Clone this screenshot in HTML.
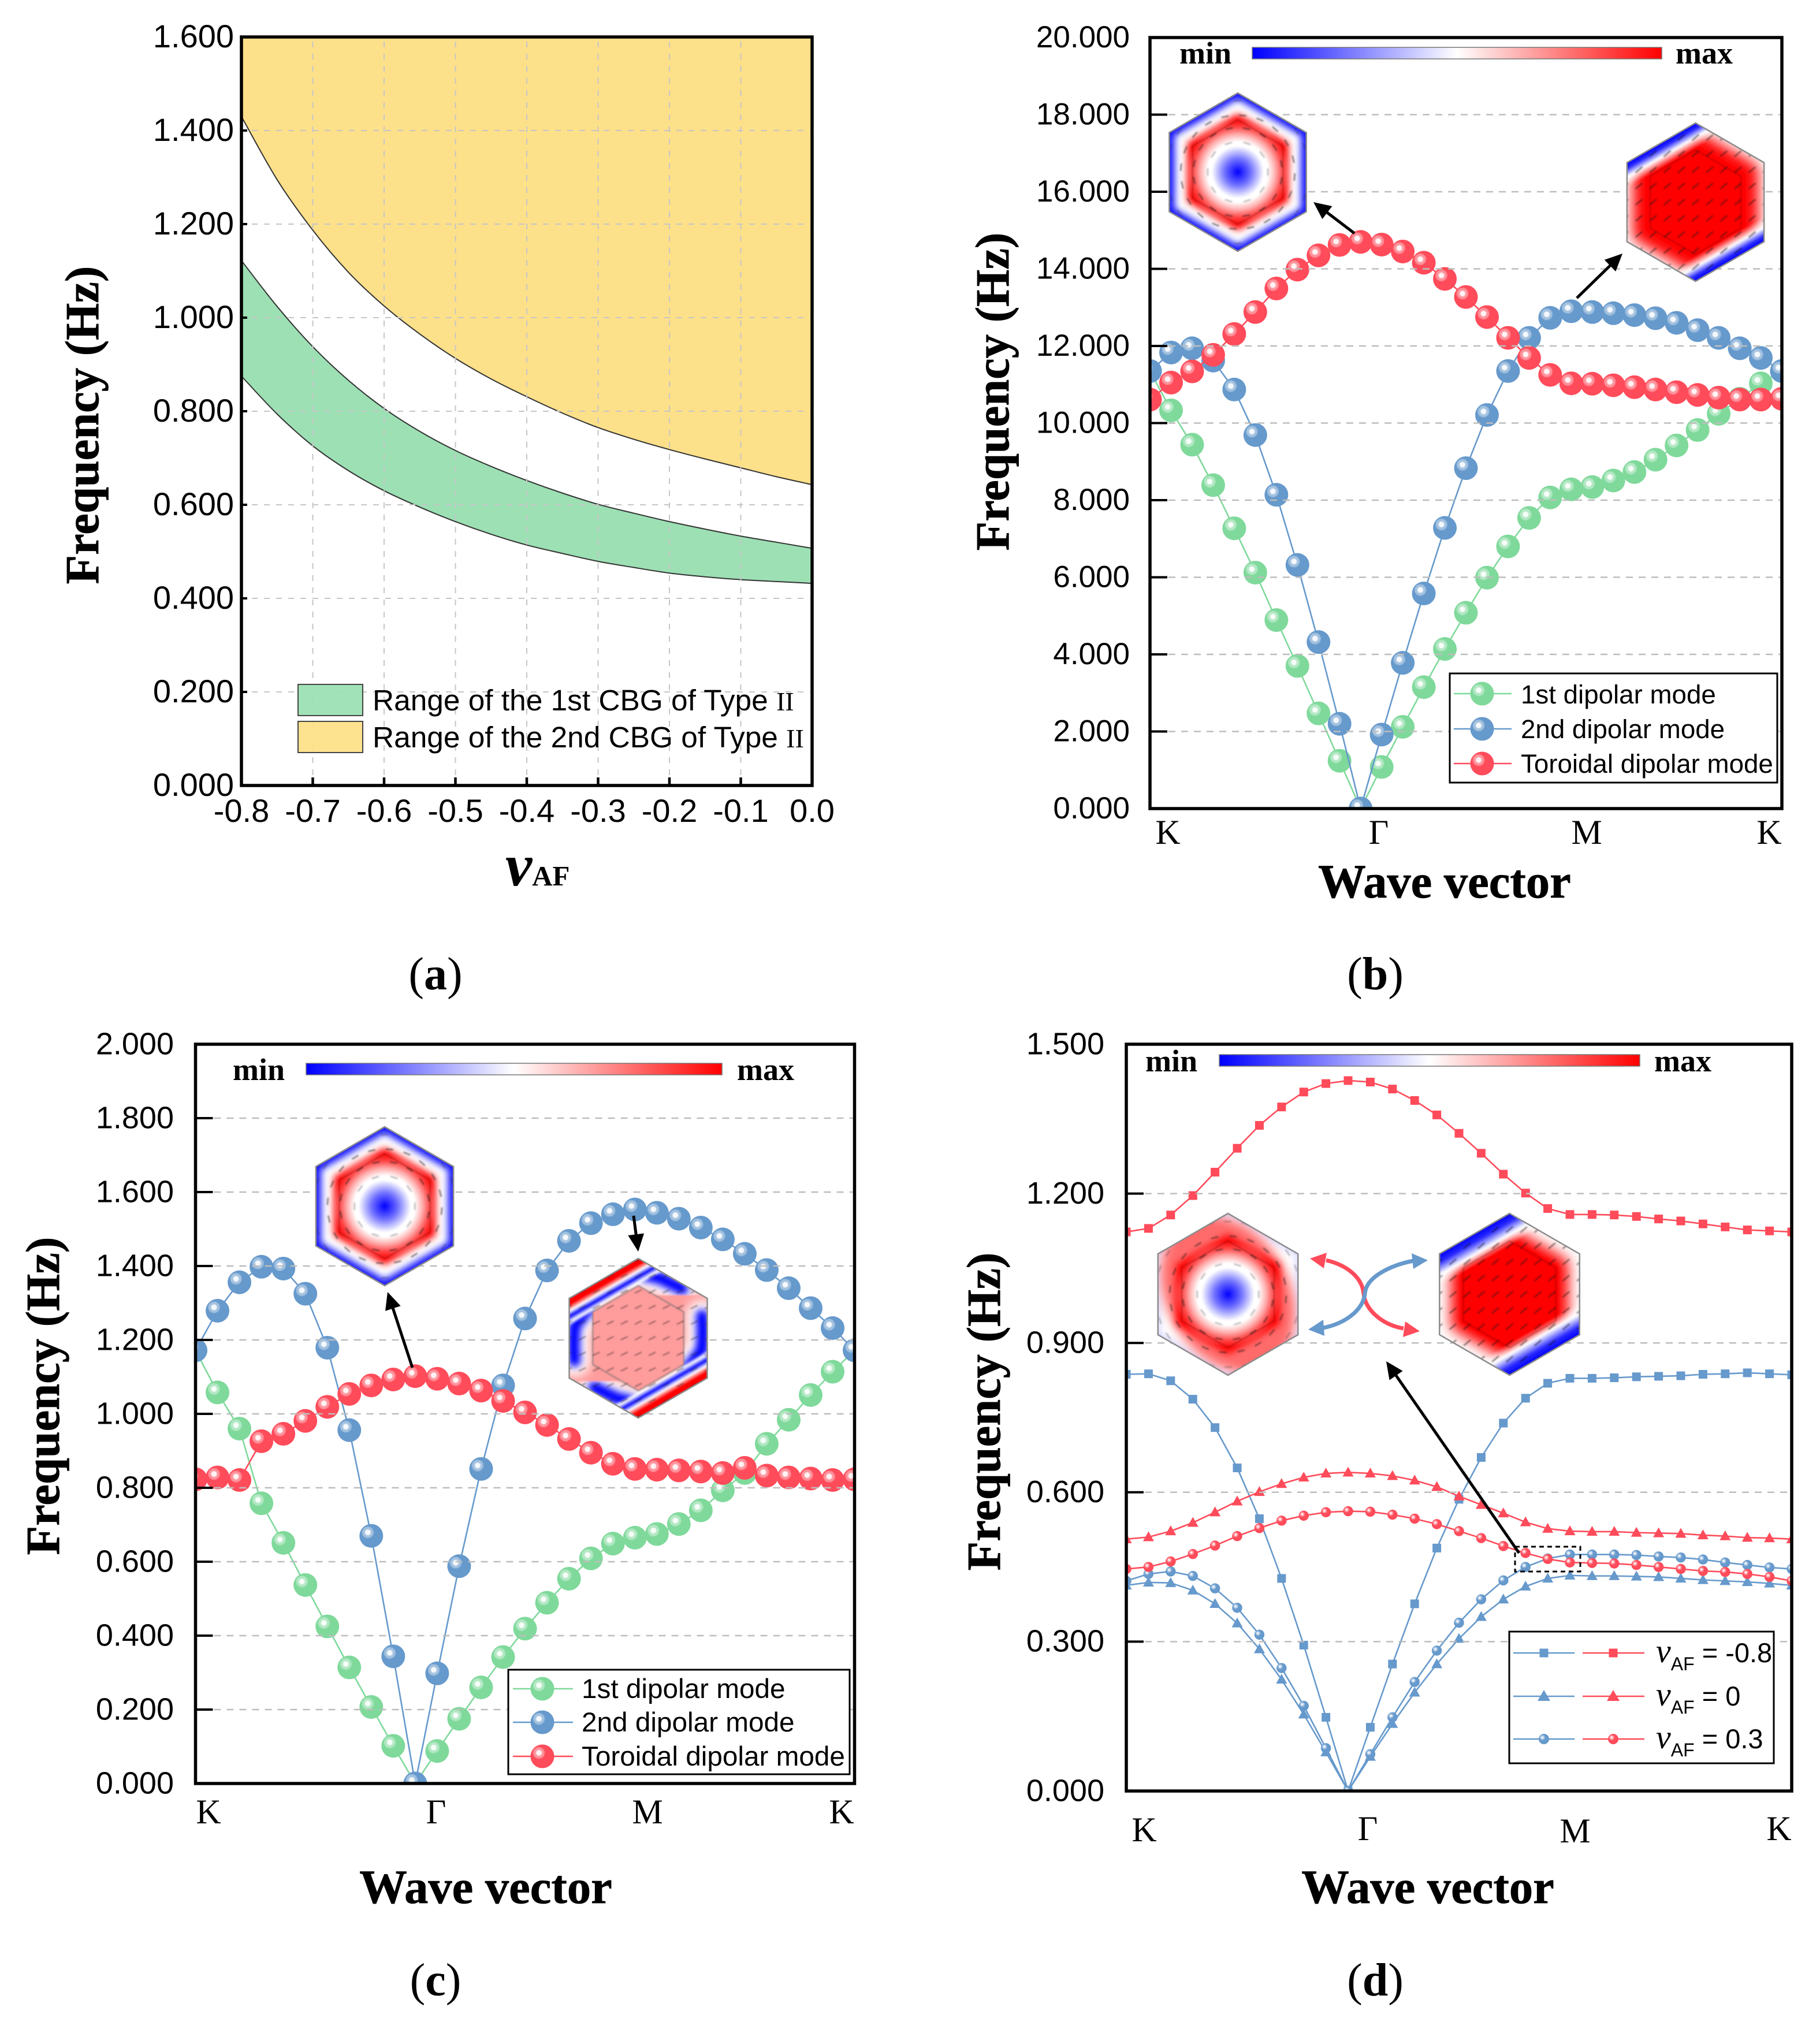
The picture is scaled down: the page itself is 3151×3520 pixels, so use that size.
<!DOCTYPE html>
<html lang="en">
<head>
<meta charset="utf-8">
<title>Frequency band charts</title>
<style>
html,body{margin:0;padding:0;background:#fff;}
svg{display:block;}
text{fill:#000;}
.sans{font-family:"Liberation Sans",sans-serif;}
.serif{font-family:"Liberation Serif",serif;}
.title{font-family:"Liberation Serif",serif;font-weight:bold;font-size:82.5px;stroke:#000;stroke-width:0.8px;}
.mm{font-family:"Liberation Serif",serif;font-weight:bold;font-size:54px;}
.sym{font-family:"Liberation Serif",serif;font-size:60px;text-anchor:middle;}
.plabel{font-family:"Liberation Serif",serif;font-size:80px;text-anchor:middle;}
</style>
</head>
<body>
<svg id="figure" xmlns="http://www.w3.org/2000/svg" width="3151" height="3520" viewBox="0 0 3151 3520">
<defs>
  <linearGradient id="cbar-gradient" x1="0" x2="1" y1="0" y2="0">
    <stop offset="0" stop-color="#0000ff"/><stop offset="0.5" stop-color="#ffffff"/><stop offset="1" stop-color="#ff0000"/>
  </linearGradient>
  <filter id="blur3" x="-40%" y="-40%" width="180%" height="180%"><feGaussianBlur stdDeviation="3"/></filter>
  <filter id="blur6" x="-40%" y="-40%" width="180%" height="180%"><feGaussianBlur stdDeviation="6"/></filter>
  <filter id="blur9" x="-40%" y="-40%" width="180%" height="180%"><feGaussianBlur stdDeviation="9"/></filter>
  <filter id="blur12" x="-40%" y="-40%" width="180%" height="180%"><feGaussianBlur stdDeviation="12"/></filter>
  <filter id="blur1" x="-40%" y="-40%" width="180%" height="180%"><feGaussianBlur stdDeviation="0.9"/></filter>
  <filter id="blur-field" x="-5%" y="-5%" width="110%" height="110%"><feGaussianBlur stdDeviation="1.3"/></filter>
  <clipPath id="clip-b"><rect x="1991" y="65" width="1094" height="1335"/></clipPath>
  <clipPath id="clip-c"><rect x="338.5" y="1808" width="1141" height="1280"/></clipPath>
  <clipPath id="clip-d"><rect x="1950" y="1808" width="1152" height="1293"/></clipPath>
</defs>

<!-- PANEL A -->
<g id="panel-a">
  <g id="a-fills"></g>
  <g id="a-grid"></g>
  <g>
    <rect x="516" y="1185" width="112" height="54" fill="#9ce0b4" fill-opacity="0.95" stroke="#444" stroke-width="2"/>
    <rect x="516" y="1249" width="112" height="54" fill="#fde08a" fill-opacity="0.95" stroke="#444" stroke-width="2"/>
    <text class="sans" x="645" y="1230" font-size="51.4">Range of the 1st CBG of Type <tspan class="serif" font-size="46">II</tspan></text>
    <text class="sans" x="645" y="1294" font-size="51.4">Range of the 2nd CBG of Type <tspan class="serif" font-size="46">II</tspan></text>
  </g>
  <rect x="418" y="64" width="988" height="1296" fill="none" stroke="#000" stroke-width="5.5"/>
  <g id="a-axes"></g>
  <text class="title" transform="translate(170,736) rotate(-90)" text-anchor="middle">Frequency (Hz)</text>
  <text class="serif" x="875" y="1533" font-size="104" font-weight="bold" font-style="italic">ν<tspan font-size="49" font-style="normal">AF</tspan></text>
  <text class="plabel" x="754" y="1713">(<tspan font-weight="bold">a</tspan>)</text>
</g>

<!-- PANEL B -->
<g id="panel-b">
  <g id="b-marks" clip-path="url(#clip-b)"></g>
  <g id="b-grid"></g>
  <g id="b-insets"></g>
  <g>
    <text class="mm" x="2042" y="110">min</text>
    <rect x="2168" y="82" width="709" height="20" fill="url(#cbar-gradient)" stroke="#777" stroke-width="1.5"/>
    <text class="mm" x="2901" y="110">max</text>
  </g>
  <rect x="2510" y="1166" width="567" height="189" fill="#fff" stroke="#000" stroke-width="3"/>
  <g id="b-legend"></g>
  <text class="sans" x="2633" y="1218" font-size="45.7">1st dipolar mode</text>
  <text class="sans" x="2633" y="1278" font-size="45.7">2nd dipolar mode</text>
  <text class="sans" x="2633" y="1338" font-size="45.7">Toroidal dipolar mode</text>
  <rect x="1991" y="65" width="1094" height="1335" fill="none" stroke="#000" stroke-width="5.5"/>
  <g id="b-axes"></g>
  <text class="sym" x="2022" y="1461">K</text>
  <text class="sym" x="2387" y="1461">Γ</text>
  <text class="sym" x="2747" y="1461">M</text>
  <text class="sym" x="3063" y="1461">K</text>
  <text class="title" transform="translate(1746,678) rotate(-90)" text-anchor="middle">Frequency (Hz)</text>
  <text class="title" x="2501" y="1554" text-anchor="middle">Wave vector</text>
  <text class="plabel" x="2381" y="1713">(<tspan font-weight="bold">b</tspan>)</text>
</g>

<!-- PANEL C -->
<g id="panel-c">
  <g id="c-marks" clip-path="url(#clip-c)"></g>
  <g id="c-grid"></g>
  <g id="c-insets"></g>
  <g>
    <text class="mm" x="403" y="1870">min</text>
    <rect x="530" y="1841" width="720" height="20" fill="url(#cbar-gradient)" stroke="#777" stroke-width="1.5"/>
    <text class="mm" x="1276" y="1870">max</text>
  </g>
  <rect x="880" y="2891" width="591" height="181" fill="#fff" stroke="#000" stroke-width="3"/>
  <g id="c-legend"></g>
  <text class="sans" x="1007" y="2940" font-size="47.7">1st dipolar mode</text>
  <text class="sans" x="1007" y="2998" font-size="47.7">2nd dipolar mode</text>
  <text class="sans" x="1007" y="3057" font-size="47.7">Toroidal dipolar mode</text>
  <rect x="338.5" y="1808" width="1141" height="1280" fill="none" stroke="#000" stroke-width="5.5"/>
  <g id="c-axes"></g>
  <text class="sym" x="361" y="3157">K</text>
  <text class="sym" x="755" y="3157">Γ</text>
  <text class="sym" x="1121" y="3157">M</text>
  <text class="sym" x="1457" y="3157">K</text>
  <text class="title" transform="translate(102,2417) rotate(-90)" text-anchor="middle">Frequency (Hz)</text>
  <text class="title" x="841" y="3295" text-anchor="middle">Wave vector</text>
  <text class="plabel" x="754" y="3455">(<tspan font-weight="bold">c</tspan>)</text>
</g>

<!-- PANEL D -->
<g id="panel-d">
  <g id="d-marks" clip-path="url(#clip-d)"></g>
  <g id="d-grid"></g>
  <g id="d-insets"></g>
  <g>
    <path d="M2296,2182 C2330,2190 2358,2210 2361,2240 C2363,2268 2395,2295 2430,2300" fill="none" stroke="#ff4b5a" stroke-width="7"/>
    <polygon points="2268,2179 2297,2169 2292,2196" fill="#ff4b5a"/>
    <polygon points="2458,2305 2433,2288 2429,2315" fill="#ff4b5a"/>
    <path d="M2447,2183 C2410,2190 2365,2210 2363,2240 C2360,2270 2325,2293 2291,2299" fill="none" stroke="#6699cc" stroke-width="7"/>
    <polygon points="2472,2182 2444,2170 2447,2197" fill="#6699cc"/>
    <polygon points="2265,2302 2291,2285 2293,2313" fill="#6699cc"/>
  </g>
  <rect x="2623" y="2678" width="113" height="43" fill="none" stroke="#000" stroke-width="3" stroke-dasharray="8 6"/>
  <g>
    <text class="mm" x="1983" y="1855">min</text>
    <rect x="2111" y="1826" width="728" height="20" fill="url(#cbar-gradient)" stroke="#777" stroke-width="1.5"/>
    <text class="mm" x="2864" y="1855">max</text>
  </g>
  <rect x="2613" y="2825" width="458" height="228" fill="#fff" stroke="#000" stroke-width="3"/>
  <g id="d-legend"></g>
  <g class="sans" font-size="47">
    <text x="2867" y="2878"><tspan class="serif" font-style="italic" font-size="58">ν</tspan><tspan font-size="32" dy="14">AF</tspan><tspan dy="-14"> = -0.8</tspan></text>
    <text x="2867" y="2953"><tspan class="serif" font-style="italic" font-size="58">ν</tspan><tspan font-size="32" dy="14">AF</tspan><tspan dy="-14"> = 0</tspan></text>
    <text x="2867" y="3027"><tspan class="serif" font-style="italic" font-size="58">ν</tspan><tspan font-size="32" dy="14">AF</tspan><tspan dy="-14"> = 0.3</tspan></text>
  </g>
  <rect x="1950" y="1808" width="1152" height="1293" fill="none" stroke="#000" stroke-width="5.5"/>
  <g id="d-axes"></g>
  <text class="sym" x="1981" y="3188">K</text>
  <text class="sym" x="2368" y="3186">Γ</text>
  <text class="sym" x="2727" y="3190">M</text>
  <text class="sym" x="3080" y="3186">K</text>
  <text class="title" transform="translate(1731,2444) rotate(-90)" text-anchor="middle">Frequency (Hz)</text>
  <text class="title" x="2472" y="3295" text-anchor="middle">Wave vector</text>
  <text class="plabel" x="2381" y="3455">(<tspan font-weight="bold">d</tspan>)</text>
</g>
</svg>

<script>
// ---------- Panel A data ----------
const aVaf = [-0.8,-0.75,-0.7,-0.65,-0.6,-0.55,-0.5,-0.45,-0.4,-0.35,-0.3,-0.25,-0.2,-0.15,-0.1,-0.05,0];
const aSecondLower = [1.43,1.295,1.187,1.097,1.025,0.965,0.913,0.869,0.831,0.796,0.765,0.740,0.718,0.698,0.679,0.660,0.643];
const aFirstUpper = [1.122,1.024,0.938,0.866,0.806,0.757,0.716,0.682,0.652,0.625,0.601,0.582,0.564,0.548,0.533,0.520,0.507];
const aFirstLower = [0.875,0.794,0.726,0.673,0.63,0.595,0.564,0.537,0.514,0.496,0.479,0.466,0.454,0.446,0.44,0.436,0.432];
const aYTicks = ['0.000','0.200','0.400','0.600','0.800','1.000','1.200','1.400','1.600'];
const aXTicks = ['-0.8','-0.7','-0.6','-0.5','-0.4','-0.3','-0.2','-0.1','0.0'];

// ---------- Panel B data ----------
const bFirst = [11.35,10.33,9.44,8.39,7.27,6.12,4.89,3.70,2.47,1.24,0,1.08,2.12,3.15,4.14,5.08,5.99,6.80,7.54,8.07,8.28,8.34,8.51,8.73,9.05,9.42,9.82,10.24,10.63,11.03,11.35];
const bSecond = [11.35,11.83,11.94,11.62,10.87,9.69,8.14,6.32,4.32,2.20,0,1.92,3.78,5.58,7.28,8.83,10.21,11.35,12.21,12.73,12.90,12.88,12.85,12.80,12.72,12.60,12.41,12.21,11.94,11.69,11.35];
const bToroidal = [10.61,11.05,11.34,11.77,12.31,12.88,13.49,13.98,14.35,14.62,14.70,14.63,14.45,14.16,13.74,13.27,12.75,12.21,11.69,11.25,11.03,11.02,10.98,10.93,10.87,10.80,10.73,10.66,10.61,10.61,10.63];
const bYTicks = ['0.000','2.000','4.000','6.000','8.000','10.000','12.000','14.000','16.000','18.000','20.000'];

// ---------- Panel C data ----------
const cFirst = [1.172,1.058,0.960,0.758,0.651,0.537,0.425,0.314,0.207,0.102,0,0.088,0.175,0.260,0.342,0.419,0.489,0.554,0.609,0.649,0.665,0.675,0.702,0.739,0.793,0.840,0.919,0.984,1.051,1.114,1.172];
const cSecond = [1.172,1.279,1.356,1.398,1.393,1.325,1.179,0.956,0.670,0.344,0,0.298,0.588,0.851,1.077,1.258,1.388,1.468,1.516,1.540,1.553,1.544,1.528,1.504,1.472,1.433,1.389,1.340,1.286,1.232,1.172];
const cToroidal = [0.823,0.828,0.821,0.926,0.946,0.981,1.019,1.054,1.077,1.093,1.102,1.095,1.082,1.063,1.035,1.004,0.970,0.932,0.895,0.865,0.851,0.849,0.847,0.844,0.840,0.854,0.833,0.828,0.825,0.821,0.823];
const cYTicks = ['0.000','0.200','0.400','0.600','0.800','1.000','1.200','1.400','1.600','1.800','2.000'];

// ---------- Panel D data ----------
const dRedSquare = [1.123,1.130,1.157,1.196,1.243,1.291,1.337,1.374,1.404,1.421,1.427,1.424,1.410,1.387,1.358,1.321,1.281,1.239,1.201,1.170,1.158,1.158,1.157,1.154,1.149,1.145,1.139,1.133,1.127,1.125,1.123];
const dBlueSquare = [0.837,0.838,0.824,0.787,0.730,0.649,0.547,0.427,0.293,0.148,0,0.128,0.255,0.376,0.488,0.586,0.670,0.739,0.789,0.819,0.829,0.829,0.830,0.832,0.833,0.834,0.837,0.838,0.840,0.838,0.836];
const dRedTriangle = [0.506,0.510,0.522,0.539,0.560,0.582,0.601,0.617,0.630,0.638,0.640,0.638,0.633,0.624,0.611,0.592,0.575,0.558,0.540,0.527,0.522,0.521,0.521,0.519,0.518,0.517,0.514,0.512,0.509,0.508,0.506];
const dBlueTriangle = [0.413,0.419,0.418,0.403,0.376,0.337,0.285,0.224,0.154,0.078,0,0.069,0.135,0.198,0.255,0.306,0.350,0.385,0.411,0.427,0.433,0.432,0.432,0.431,0.430,0.427,0.424,0.422,0.420,0.417,0.413];
const dRedCircle = [0.446,0.450,0.461,0.476,0.493,0.512,0.528,0.543,0.553,0.560,0.562,0.561,0.555,0.547,0.536,0.522,0.508,0.492,0.478,0.466,0.459,0.458,0.457,0.454,0.450,0.446,0.442,0.440,0.436,0.430,0.422];
const dBlueCircle = [0.422,0.436,0.441,0.432,0.407,0.368,0.314,0.247,0.171,0.086,0,0.074,0.148,0.219,0.282,0.338,0.385,0.423,0.450,0.467,0.475,0.475,0.475,0.474,0.471,0.469,0.465,0.459,0.454,0.449,0.446];
const dYTicks = ['0.000','0.300','0.600','0.900','1.200','1.500'];

// ---------- Helpers ----------
const NS = 'http://www.w3.org/2000/svg';
const GREEN = '#7fd99b', BLUE = '#6699cc', RED = '#ff4b5a';
function el(tag, attrs, parent) {
  const e = document.createElementNS(NS, tag);
  for (const k in attrs) e.setAttribute(k, attrs[k]);
  parent.appendChild(e);
  return e;
}
function byId(id) { return document.getElementById(id); }
function linear(d0, d1, r0, r1) { return v => r0 + (v - d0) * (r1 - r0) / (d1 - d0); }
function indexScale(x0, x1, n) { return i => x0 + i * (x1 - x0) / (n - 1); }

function drawYAxis(axes, grid, ticks, y, x0, x1, opts) {
  ticks.forEach(label => {
    const v = parseFloat(label);
    const py = y(v);
    const t = el('text', {x: opts.labelX, y: py + opts.fs * 0.32, 'font-size': opts.fs, 'text-anchor': 'end', class: 'sans'}, axes);
    
    
    t.textContent = label;
    if (v === parseFloat(ticks[0]) || v === parseFloat(ticks[ticks.length - 1])) return;
    const tick = el('line', {x1: x0, x2: x0 + opts.tick, y1: py, y2: py, stroke: '#000', 'stroke-width': 4}, axes);
    
    
    const g = el('line', {x1: x0 + opts.tick + 2, x2: x1 - 3, y1: py, y2: py, stroke: '#bdbdbd', 'stroke-width': 2.5, 'stroke-dasharray': '12 10'}, grid);
    
    
  });
}

function smoothPath(xs, ys) {
  let d = '';
  for (let i = 0; i < xs.length - 1; i++) {
    const p0 = i > 0 ? i - 1 : i, p3 = i + 2 < xs.length ? i + 2 : i + 1;
    const c1x = xs[i] + (xs[i + 1] - xs[p0]) / 6, c1y = ys[i] + (ys[i + 1] - ys[p0]) / 6;
    const c2x = xs[i + 1] - (xs[p3] - xs[i]) / 6, c2y = ys[i + 1] - (ys[p3] - ys[i]) / 6;
    d += ' C' + c1x + ',' + c1y + ' ' + c2x + ',' + c2y + ' ' + xs[i + 1] + ',' + ys[i + 1];
  }
  return d;
}

function drawBall(parent, cx, cy, r, color) {
  const g = el('g', {}, parent);
  
  
  el('circle', {cx: cx, cy: cy, r: r, fill: color}, g);
  const k = r / 20.5;
  el('circle', {cx: cx - 6 * k, cy: cy - 6 * k, r: 10 * k, fill: '#fff', 'fill-opacity': 0.4, filter: 'url(#blur1)'}, g);
  el('circle', {cx: cx - 6 * k, cy: cy - 6 * k, r: 5 * k, fill: '#fff', 'fill-opacity': 0.9, filter: 'url(#blur1)'}, g);
}

function drawBallSeries(parent, values, x, y, color, name) {
  const g = el('g', {}, parent);
  
  
  const pts = values.map((v, i) => x(i) + ',' + y(v)).join(' ');
  el('polyline', {points: pts, fill: 'none', stroke: color, 'stroke-width': 2.6}, g);
  values.forEach((v, i) => drawBall(g, x(i), y(v), 20.5, color));
}

function drawMarker(parent, shape, cx, cy, color, w, h) {
  if (shape === 'square') {
    const m = el('rect', {x: cx - w / 2, y: cy - h / 2, width: w, height: h, fill: color}, parent);
    
    
  } else if (shape === 'triangle') {
    const m = el('polygon', {points: cx + ',' + (cy - h * 0.58) + ' ' + (cx - w / 2) + ',' + (cy + h * 0.42) + ' ' + (cx + w / 2) + ',' + (cy + h * 0.42), fill: color}, parent);
    
    
  } else {
    drawBall(parent, cx, cy, w / 2, color);
  }
}

function drawMarkerSeries(parent, values, x, y, color, shape, name, w, h) {
  const g = el('g', {}, parent);
  
  
  const pts = values.map((v, i) => x(i) + ',' + y(v)).join(' ');
  el('polyline', {points: pts, fill: 'none', stroke: color, 'stroke-width': 2.6}, g);
  values.forEach((v, i) => drawMarker(g, shape, x(i), y(v), color, w, h));
}

function drawArrow(parent, x1, y1, x2, y2, name) {
  const g = el('g', {}, parent);
  
  
  const dx = x2 - x1, dy = y2 - y1, L = Math.hypot(dx, dy), ux = dx / L, uy = dy / L;
  const hl = 30, hw = 14;
  el('line', {x1: x1, y1: y1, x2: x2 - ux * hl * 0.8, y2: y2 - uy * hl * 0.8, stroke: '#000', 'stroke-width': 5}, g);
  const bx = x2 - ux * hl, by = y2 - uy * hl;
  el('polygon', {points: x2 + ',' + y2 + ' ' + (bx - uy * hw) + ',' + (by + ux * hw) + ' ' + (bx + uy * hw) + ',' + (by - ux * hw), fill: '#000'}, g);
}

// ---------- Inset field maps ----------
let insetCount = 0;
function hexPoints(cx, cy, R) {
  const p = [];
  for (let i = 0; i < 6; i++) {
    const a = -Math.PI / 2 + i * Math.PI / 3;
    p.push((cx + R * Math.cos(a)) + ',' + (cy + R * Math.sin(a)));
  }
  return p.join(' ');
}
function edgeGradient(defs, id, cx, cy, R, stops) {
  const nx = -0.5, ny = -0.866, d = 0.866 * R;
  const g = el('linearGradient', {id: id, gradientUnits: 'userSpaceOnUse', x1: cx + nx * d, y1: cy + ny * d, x2: cx - nx * d, y2: cy - ny * d}, defs);
  stops.forEach(s => el('stop', {offset: s[0], 'stop-color': s[1], 'stop-opacity': s[2]}, g));
}
function drawInset(parent, cx, cy, R, type, name, outer, soft) {
  const id = 'inset' + (++insetCount);
  const defs = el('defs', {}, parent);
  const clip = el('clipPath', {id: id + '-clip'}, defs);
  el('polygon', {points: hexPoints(cx, cy, R)}, clip);
  const root = el('g', {}, parent);
  
  
  const clipped = el('g', {'clip-path': 'url(#' + id + '-clip)'}, root);
  const g = el('g', {filter: 'url(#blur-field)'}, clipped);
  const box = {x: cx - R - 8, y: cy - R - 8, width: 2 * R + 16, height: 2 * R + 16};

  if (type === 'vortex' || type === 'vortex-pale') {
    const pale = type === 'vortex-pale';
    el('rect', Object.assign({fill: outer}, box), g);
    el('polygon', {points: hexPoints(cx, cy, (pale ? 0.97 : 0.92) * R), fill: '#fff', filter: 'url(#blur6)'}, g);
    if (pale) {
      el('ellipse', {cx: cx, cy: cy, rx: 1.02 * R, ry: 0.76 * R, transform: 'rotate(60 ' + cx + ' ' + cy + ')', fill: '#ff6a6a', filter: 'url(#blur9)'}, g);
    }
    el('polygon', {points: hexPoints(cx, cy, 0.74 * R), fill: '#ff0000', filter: 'url(#blur6)'}, g);
    const rg = el('radialGradient', {id: id + '-core', gradientUnits: 'userSpaceOnUse', cx: cx, cy: cy, r: 0.66 * R}, defs);
    [[0, '#0000ff', 1], [0.25, '#7070ff', 1], [0.5, '#ffffff', 1], [0.58, '#ffffff', 1], [0.72, '#ffffff', 0.68], [0.86, '#ffffff', 0.28], [1, '#ffffff', 0]].forEach(s => el('stop', {offset: s[0], 'stop-color': s[1], 'stop-opacity': s[2]}, rg));
    el('circle', {cx: cx, cy: cy, r: 0.66 * R, fill: 'url(#' + id + '-core)'}, g);
    el('polygon', {points: hexPoints(cx, cy, 0.66 * R), fill: 'none', stroke: '#8a0000', 'stroke-width': 1.6, 'stroke-opacity': 0.7}, g);
    [0.38, 0.56, 0.72, 0.9].forEach((rr, ri) => {
      const n = [10, 16, 20, 26][ri];
      for (let i = 0; i < n; i++) {
        const a = i * 2 * Math.PI / n + ri * 0.2;
        const px = cx + rr * R * Math.cos(a), py = cy + rr * R * Math.sin(a);
        const tx = -Math.sin(a) * 6.5, ty = Math.cos(a) * 6.5;
        el('line', {x1: px - tx, y1: py - ty, x2: px + tx, y2: py + ty, stroke: '#222', 'stroke-width': 2.4, 'stroke-opacity': ri === 3 || ri === 0 ? 0.35 : 0.75}, g);
      }
    });
  } else if (type === 'uniform') {
    el('rect', Object.assign({fill: '#fff'}, box), g);
    el('polygon', {points: hexPoints(cx, cy, soft.radius * R), fill: '#ff0000', filter: 'url(#blur12)'}, g);
    el('polygon', {points: hexPoints(cx, cy, 0.7 * R), fill: '#ff0000', filter: 'url(#blur3)'}, g);
    const w = soft.white;
    edgeGradient(defs, id + '-edge', cx, cy, R, [[0, '#0000ff', 1], [w * 0.4, '#2a2aff', 1], [w, '#ffffff', 1], [w + 0.07, '#ffffff', 0], [1 - w - 0.07, '#ffffff', 0], [1 - w, '#ffffff', 1], [1 - w * 0.4, '#2a2aff', 1], [1, '#0000ff', 1]]);
    el('rect', Object.assign({fill: 'url(#' + id + '-edge)'}, box), g);
    el('polygon', {points: hexPoints(cx, cy, 0.66 * R), fill: 'none', stroke: '#8a0000', 'stroke-width': 1.6, 'stroke-opacity': 0.7}, g);
    for (let iy = -5; iy <= 5; iy++) for (let ix = -5; ix <= 5; ix++) {
      const px = cx + ix * 24.5, py = cy + iy * 28;
      el('line', {x1: px - 6, y1: py + 5, x2: px + 6, y2: py - 5, stroke: '#111', 'stroke-width': 2.4, 'stroke-opacity': 0.75}, g);
    }
  } else {
    el('rect', Object.assign({fill: '#ff9c9c'}, box), g);
    const bands = [
      [[-0.62, -0.38], [-0.8, -0.15], [-0.81, 0.1], [-0.8, 0.28]],
      [[0.62, 0.38], [0.8, 0.15], [0.81, -0.1], [0.8, -0.28]],
      [[0, -0.82], [0.28, -0.75], [0.55, -0.62]],
      [[0, 0.82], [-0.28, 0.75], [-0.55, 0.62]]
    ];
    bands.forEach(b => el('polyline', {points: b.map(p => (cx + p[0] * R) + ',' + (cy + p[1] * R)).join(' '), fill: 'none', stroke: '#fff', 'stroke-width': 54, 'stroke-linecap': 'round', 'stroke-linejoin': 'round', filter: 'url(#blur9)'}, g));
    bands.forEach(b => el('polyline', {points: b.map(p => (cx + p[0] * R) + ',' + (cy + p[1] * R)).join(' '), fill: 'none', stroke: '#0000ff', 'stroke-width': 22, 'stroke-linecap': 'round', 'stroke-linejoin': 'round', filter: 'url(#blur6)'}, g));
    edgeGradient(defs, id + '-edge', cx, cy, R, [[0, '#ff0000', 1], [0.04, '#ff0000', 1], [0.08, '#ffffff', 1], [0.098, '#8080ff', 1], [0.115, '#0000ff', 1], [0.132, '#8080ff', 1], [0.15, '#ffffff', 1], [0.175, '#ffffff', 0], [0.825, '#ffffff', 0], [0.85, '#ffffff', 1], [0.868, '#8080ff', 1], [0.885, '#0000ff', 1], [0.902, '#8080ff', 1], [0.92, '#ffffff', 1], [0.96, '#ff0000', 1], [1, '#ff0000', 1]]);
    el('rect', Object.assign({fill: 'url(#' + id + '-edge)'}, box), g);
    el('polygon', {points: hexPoints(cx, cy, 0.66 * R), fill: '#ff9c9c', stroke: '#777', 'stroke-width': 2}, g);
    for (let iy = -5; iy <= 5; iy++) for (let ix = -5; ix <= 5; ix++) {
      const px = cx + ix * 24.2, py = cy + iy * 27;
      el('line', {x1: px - 6, y1: py + 3, x2: px + 6, y2: py - 3, stroke: '#222', 'stroke-width': 2, 'stroke-opacity': 0.65}, g);
    }
  }
  el('polygon', {points: hexPoints(cx, cy, R), fill: 'none', stroke: '#8c8c8c', 'stroke-width': 2.5}, root);
}

function drawCbarTicks(parent, x, w, y, h) {
  for (let i = 1; i < 6; i++) {
    const px = x + w * i / 6;
    const t = el('line', {x1: px, x2: px, y1: y, y2: y + h, stroke: '#555', 'stroke-width': 1.5, 'stroke-opacity': 0.6}, parent);
    
    
  }
}

// ---------- Panel A ----------
(function () {
  const x = linear(-0.8, 0, 418, 1406), y = linear(0, 1.6, 1360, 64);
  const fills = byId('a-fills');
  const xs = aVaf.map(x);
  const ySecond = aSecondLower.map(y), yUpper = aFirstUpper.map(y), yLower = aFirstLower.map(y);
  const revX = xs.slice().reverse();
  const yb = el('path', {d: 'M' + xs[0] + ',' + ySecond[0] + smoothPath(xs, ySecond) + ' L' + x(0) + ',' + y(1.6) + ' L' + x(-0.8) + ',' + y(1.6) + ' Z', fill: '#fde08a'}, fills);
  
  
  const gb = el('path', {d: 'M' + xs[0] + ',' + yUpper[0] + smoothPath(xs, yUpper) + ' L' + revX[0] + ',' + yLower[yLower.length - 1] + smoothPath(revX, yLower.slice().reverse()) + ' Z', fill: '#9ce0b4'}, fills);
  
  
  [[ySecond, 'second-cbg-lower-bound'], [yUpper, 'first-cbg-upper-bound'], [yLower, 'first-cbg-lower-bound']].forEach(c => {
    const l = el('path', {d: 'M' + xs[0] + ',' + c[0][0] + smoothPath(xs, c[0]), fill: 'none', stroke: '#333', 'stroke-width': 2}, fills);
    
    
  });
  const axes = byId('a-axes'), grid = byId('a-grid');
  aYTicks.forEach(label => {
    const v = parseFloat(label), py = y(v);
    const t = el('text', {x: 405, y: py + 18, 'font-size': 56, 'text-anchor': 'end', class: 'sans'}, axes);
    
    
    t.textContent = label;
    if (v === 0 || v === 1.6) return;
    const m = el('line', {x1: 418, x2: 428, y1: py, y2: py, stroke: '#000', 'stroke-width': 4}, axes);
    
    
    const g = el('line', {x1: 436, x2: 1403, y1: py, y2: py, stroke: '#c6c6c6', 'stroke-width': 2, 'stroke-dasharray': '10 11'}, grid);
    
    
  });
  aXTicks.forEach(label => {
    const v = parseFloat(label), px = x(v);
    const t = el('text', {x: px, y: 1423, 'font-size': 56, 'text-anchor': 'middle', class: 'sans'}, axes);
    
    
    t.textContent = label;
    if (v === -0.8 || v === 0) return;
    const m = el('line', {x1: px, x2: px, y1: 1360, y2: 1346, stroke: '#000', 'stroke-width': 4.5}, axes);
    
    
    const g = el('line', {x1: px, x2: px, y1: 1342, y2: 67, stroke: '#c6c6c6', 'stroke-width': 2, 'stroke-dasharray': '10 11'}, grid);
    
    
  });
})();

// ---------- Panel B ----------
(function () {
  const x = indexScale(1991, 3085, bFirst.length), y = linear(0, 20, 1400, 65);
  const marks = byId('b-marks');
  drawBallSeries(marks, bFirst, x, y, GREEN, 'series-first-dipolar');
  drawBallSeries(marks, bSecond, x, y, BLUE, 'series-second-dipolar');
  drawBallSeries(marks, bToroidal, x, y, RED, 'series-toroidal-dipolar');
  drawYAxis(byId('b-axes'), byId('b-grid'), bYTicks, y, 1991, 3085, {labelX: 1956, fs: 53, tick: 30});
  const ins = byId('b-insets');
  drawCbarTicks(ins, 2168, 709, 82, 20);
  drawInset(ins, 2143, 298, 137, 'vortex', 'toroidal-mode-field-inset', '#1414ff');
  drawInset(ins, 2935.5, 350, 137, 'uniform', 'dipolar-mode-field-inset', null, {radius: 0.92, white: 0.09});
  drawArrow(ins, 2345, 404, 2274, 350, 'toroidal-mode-arrow');
  drawArrow(ins, 2730, 516, 2809, 439, 'dipolar-mode-arrow');
  const lg = byId('b-legend');
  [[1201, GREEN], [1262, BLUE], [1322, RED]].forEach(e => {
    const l = el('line', {x1: 2517, x2: 2617, y1: e[0], y2: e[0], stroke: e[1], 'stroke-width': 2.6}, lg);
    
    
    drawBall(lg, 2566, e[0], 20.5, e[1]);
  });
})();

// ---------- Panel C ----------
(function () {
  const x = indexScale(338.5, 1479.6, cFirst.length), y = linear(0, 2, 3088, 1808);
  const marks = byId('c-marks');
  drawBallSeries(marks, cFirst, x, y, GREEN, 'series-first-dipolar');
  drawBallSeries(marks, cSecond, x, y, BLUE, 'series-second-dipolar');
  drawBallSeries(marks, cToroidal, x, y, RED, 'series-toroidal-dipolar');
  drawYAxis(byId('c-axes'), byId('c-grid'), cYTicks, y, 338.5, 1479.6, {labelX: 301, fs: 54, tick: 30});
  const ins = byId('c-insets');
  drawCbarTicks(ins, 530, 720, 1841, 20);
  drawInset(ins, 666, 2088.5, 137.5, 'vortex', 'toroidal-mode-field-inset', '#1414ff');
  drawInset(ins, 1105, 2317, 138, 'wavy', 'second-dipolar-mode-field-inset');
  drawArrow(ins, 714, 2368, 671, 2237, 'toroidal-mode-arrow');
  drawArrow(ins, 1097, 2105, 1105, 2167, 'second-dipolar-mode-arrow');
  const lg = byId('c-legend');
  [[2924, GREEN], [2982, BLUE], [3041, RED]].forEach(e => {
    const l = el('line', {x1: 888, x2: 992, y1: e[0], y2: e[0], stroke: e[1], 'stroke-width': 2.6}, lg);
    
    
    drawBall(lg, 939, e[0], 20.5, e[1]);
  });
})();

// ---------- Panel D ----------
(function () {
  const x = indexScale(1950, 3102, dRedSquare.length), y = linear(0, 1.5, 3101, 1808);
  const marks = byId('d-marks');
  drawMarkerSeries(marks, dBlueSquare, x, y, BLUE, 'square', 'series-blue-minus-0-8', 15, 15);
  drawMarkerSeries(marks, dBlueTriangle, x, y, BLUE, 'triangle', 'series-blue-0', 19, 17);
  drawMarkerSeries(marks, dBlueCircle, x, y, BLUE, 'circle', 'series-blue-0-3', 17.5, 17.5);
  drawMarkerSeries(marks, dRedSquare, x, y, RED, 'square', 'series-red-minus-0-8', 15, 15);
  drawMarkerSeries(marks, dRedTriangle, x, y, RED, 'triangle', 'series-red-0', 19, 17);
  drawMarkerSeries(marks, dRedCircle, x, y, RED, 'circle', 'series-red-0-3', 17.5, 17.5);
  drawYAxis(byId('d-axes'), byId('d-grid'), dYTicks, y, 1950, 3102, {labelX: 1912, fs: 54, tick: 30});
  const ins = byId('d-insets');
  drawCbarTicks(ins, 2111, 728, 1826, 20);
  drawInset(ins, 2126, 2241, 140, 'vortex-pale', 'toroidal-mode-field-inset', '#d4d4ff');
  drawInset(ins, 2613.5, 2241, 140, 'uniform', 'dipolar-mode-field-inset', null, {radius: 0.84, white: 0.13});
  drawArrow(ins, 2630, 2689, 2400, 2357, 'crossing-arrow');
  const lg = byId('d-legend');
  [[2862, 'square', 15, 15], [2937, 'triangle', 22, 19], [3011, 'circle', 18, 18]].forEach(e => {
    [[2620, 2726, 2673, BLUE], [2740, 2847, 2793, RED]].forEach(c => {
      const l = el('line', {x1: c[0], x2: c[1], y1: e[0], y2: e[0], stroke: c[3], 'stroke-width': 2.6}, lg);
      
      
      drawMarker(lg, e[1], c[2], e[0], c[3], e[2], e[3]);
    });
  });
})();
</script>
</body>
</html>
